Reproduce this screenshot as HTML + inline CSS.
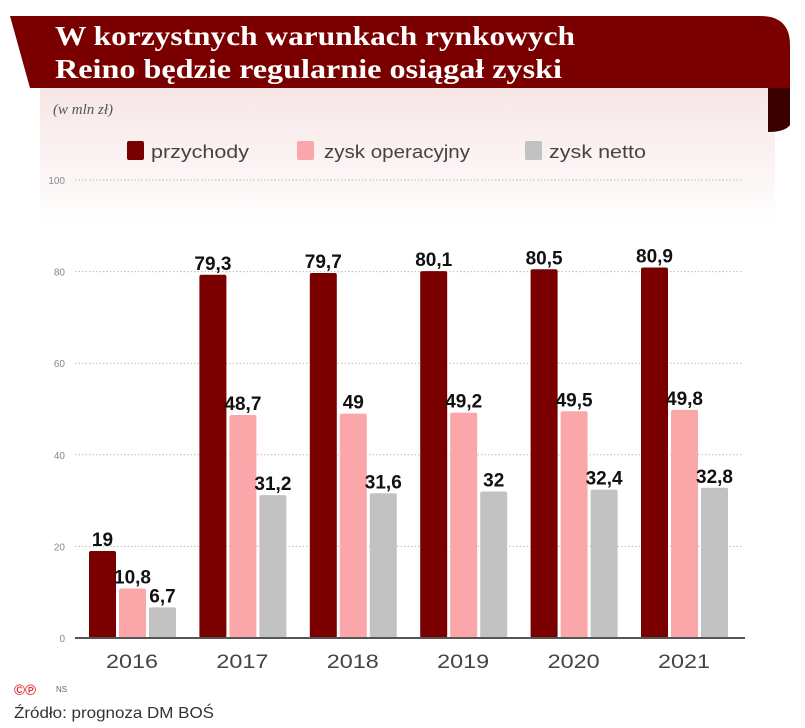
<!DOCTYPE html>
<html><head><meta charset="utf-8"><style>
body{margin:0;background:#fff;width:805px;height:723px;overflow:hidden;font-family:"Liberation Sans",sans-serif;}
</style></head><body>
<svg width="805" height="723">
<defs><linearGradient id="bg" x1="0" y1="0" x2="0" y2="1"><stop offset="0" stop-color="#f7e6e6"/><stop offset="1" stop-color="#ffffff"/></linearGradient></defs>
<rect x="40" y="88" width="735" height="140" fill="url(#bg)"/>
<path d="M768,88 L790,88 L790,125 Q785,132 768,132 Z" fill="#3a0000"/>
<path d="M10,16 L760,16 Q790,16 790,45 L790,88 L30,88 Z" fill="#7a0000"/>
<text x="55" y="45" fill="#fff" font-family="Liberation Serif,serif" font-weight="bold" font-size="27" textLength="520" lengthAdjust="spacingAndGlyphs">W korzystnych warunkach rynkowych</text>
<text x="55" y="78" fill="#fff" font-family="Liberation Serif,serif" font-weight="bold" font-size="27" textLength="507" lengthAdjust="spacingAndGlyphs">Reino będzie regularnie osiągał zyski</text>
<text x="53" y="114" fill="#555" font-family="Liberation Serif,serif" font-style="italic" font-size="15">(w mln zł)</text>
<g>
<rect x="127" y="141" width="17" height="19" rx="2" fill="#7a0000"/>
<text x="151" y="158" font-size="18" fill="#444" textLength="98" lengthAdjust="spacingAndGlyphs">przychody</text>
<rect x="297" y="141" width="17" height="19" rx="2" fill="#fba7a9"/>
<text x="324" y="158" font-size="18" fill="#444" textLength="146" lengthAdjust="spacingAndGlyphs">zysk operacyjny</text>
<rect x="525" y="141" width="17" height="19" rx="2" fill="#c2c2c2"/>
<text x="549" y="158" font-size="18" fill="#444" textLength="97" lengthAdjust="spacingAndGlyphs">zysk netto</text>
</g>
<g id="plot"></g>
<text x="14" y="695" font-size="15" fill="#e53333" font-weight="bold">©℗</text>
<text x="56" y="692" font-size="8" fill="#666">NS</text>
<text x="14" y="718" font-size="16" fill="#333" textLength="200" lengthAdjust="spacingAndGlyphs">Źródło: prognoza DM BOŚ</text>
</svg>
<script>
const categories=["2016","2017","2018","2019","2020","2021"];
const przychody=[19,79.3,79.7,80.1,80.5,80.9];
const zyskOperacyjny=[10.8,48.7,49,49.2,49.5,49.8];
const zyskNetto=[6.7,31.2,31.6,32,32.4,32.8];
const yTicks=[0,20,40,60,80,100];
const seriesColors=["#7a0000","#fba7a9","#c2c2c2"];
const seriesNames=["przychody","zysk-operacyjny","zysk-netto"];
const NS="http://www.w3.org/2000/svg";
const g=document.getElementById('plot');
const y0=638,ppu=4.58;
const yScale=v=>y0-v*ppu;
const xCenter=i=>132+i*110.4;
function mk(t,a){const e=document.createElementNS(NS,t);for(const k in a)e.setAttribute(k,a[k]);g.appendChild(e);return e;}
yTicks.forEach(t=>{
  if(t>0){const l=mk('line',{x1:75,x2:742,y1:yScale(t),y2:yScale(t),stroke:'#bbb','stroke-dasharray':'1.5,2'});
  
  }
  const tx=mk('text',{x:65,y:yScale(t)+4,'text-anchor':'end','font-size':10,fill:'#888'});tx.textContent=t;
  
  
});
const series=[przychody,zyskOperacyjny,zyskNetto];
categories.forEach((c,i)=>{
  series.forEach((s,j)=>{
    const x=xCenter(i)-43+j*30,v=s[i];
    const r=mk('rect',{x:x,y:yScale(v),width:27,height:v*ppu,rx:2,fill:seriesColors[j]});
    
    
    const t=mk('text',{x:x+13.5,y:yScale(v)-5,'text-anchor':'middle','font-size':19,'font-weight':'bold',fill:'#111'});
    t.textContent=String(v).replace('.',',');
    
    
  });
  const t=mk('text',{x:xCenter(i),y:668,'text-anchor':'middle','font-size':19,fill:'#444',textLength:52,lengthAdjust:'spacingAndGlyphs'});t.textContent=c;
  
  
});
const ax=mk('line',{x1:75,x2:745,y1:y0,y2:y0,stroke:'#555','stroke-width':2});


</script>
</body></html>
